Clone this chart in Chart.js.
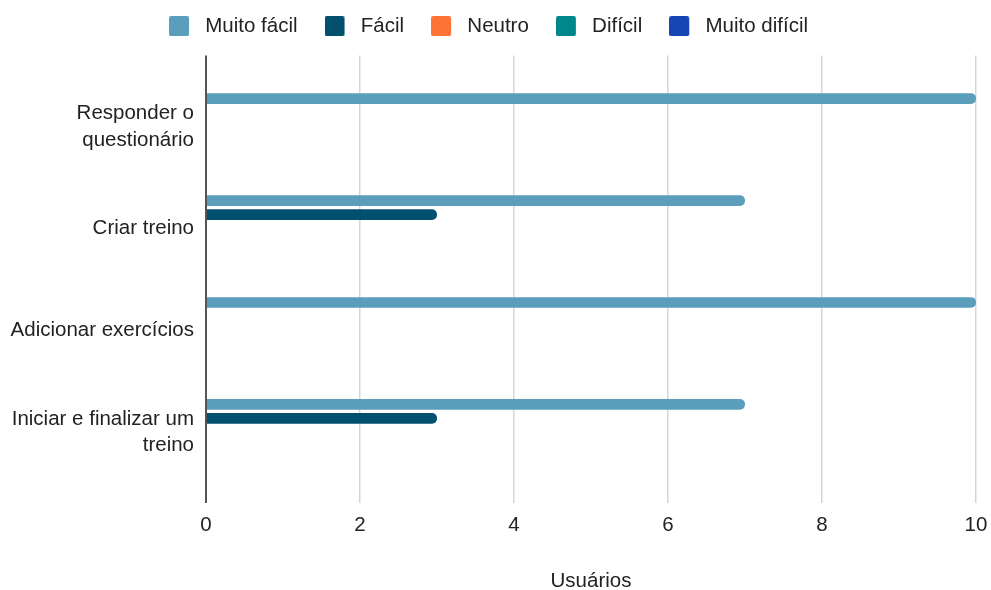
<!DOCTYPE html>
<html lang="pt">
<head>
<meta charset="utf-8">
<title>Facilidade das tarefas</title>
<script src="https://cdn.jsdelivr.net/npm/chart.js@4/dist/chart.umd.min.js"></script>
<style>
  html, body { margin: 0; padding: 0; background: #ffffff; }
  #wrap { width: 991px; height: 590px; }
</style>
</head>
<body>
<div id="wrap"><canvas id="grafico" width="991" height="590"></canvas></div>
<script>
// Tarefas avaliadas (cada rótulo quebrado em linhas como no eixo)
const categorias = [
  ['Responder o', 'questionário'],
  ['Criar treino'],
  ['Adicionar exercícios'],
  ['Iniciar e finalizar um', 'treino']
];

// Número de usuários por nível de facilidade
const muitoFacil   = [10, 7, 10, 7];
const facil        = [0, 3, 0, 3];
const neutro       = [0, 0, 0, 0];
const dificil      = [0, 0, 0, 0];
const muitoDificil = [0, 0, 0, 0];

const nomesSeries = ['Muito fácil', 'Fácil', 'Neutro', 'Difícil', 'Muito difícil'];
const coresSeries = ['#5a9ebb', '#02506e', '#fc7433', '#00878c', '#1447b4'];

// Valores do eixo horizontal
const ticksX = [0, 2, 4, 6, 8, 10];

const valoresSeries = [muitoFacil, facil, neutro, dificil, muitoDificil];

// Marcador da legenda: quadrado colorido com um respiro transparente à direita
function marcadorLegenda(cor) {
  const c = document.createElement('canvas');
  c.width = 26;
  c.height = 20;
  const g = c.getContext('2d');
  g.fillStyle = cor;
  g.beginPath();
  g.roundRect(0, 0, 20, 20, 2);
  g.fill();
  return c;
}
const marcadores = coresSeries.map(marcadorLegenda);

// Espaço extra entre a legenda e a área do gráfico
const espacoLegenda = {
  id: 'espacoLegenda',
  afterInit(chart) {
    const legenda = chart.legend;
    if (!legenda) return;
    const fitOriginal = legenda.fit;
    legenda.fit = function () {
      fitOriginal.call(this);
      this.height += 9;
    };
  }
};

const datasets = valoresSeries.map((valores, s) => ({
  label: nomesSeries[s],
  data: valores.map((v, i) => ({ x: v, y: i })),
  backgroundColor: coresSeries[s],
  borderColor: coresSeries[s],
  borderWidth: 0,
  borderRadius: 5,
  borderSkipped: 'start',
  pointStyle: marcadores[s],
  categoryPercentage: 0.69,
  barPercentage: 0.76
}));

const fonte = { family: '"Liberation Sans", Arial, sans-serif', size: 20.5 };

new Chart(document.getElementById('grafico'), {
  type: 'bar',
  data: { datasets },
  plugins: [espacoLegenda],
  options: {
    indexAxis: 'y',
    responsive: false,
    animation: false,
    layout: { padding: { left: 0, right: 14, top: -11, bottom: -4 } },
    plugins: {
      legend: {
        position: 'top',
        align: 'center',
        labels: {
          font: fonte,
          color: '#222222',
          usePointStyle: true,
          pointStyleWidth: 26,
          boxHeight: 20,
          padding: 27,
          generateLabels: (chart) => Chart.defaults.plugins.legend.labels.generateLabels(chart)
            .map((item, i) => Object.assign(item, { pointStyle: marcadores[i] }))
        }
      },
      tooltip: { enabled: false }
    },
    scales: {
      x: {
        type: 'linear',
        min: ticksX[0],
        max: ticksX[ticksX.length - 1],
        afterBuildTicks: (scale) => { scale.ticks = ticksX.map(v => ({ value: v })); },
        afterFit: (scale) => { scale.paddingRight = 15; },
        border: { display: false },
        grid: {
          drawTicks: false,
          color: (ctx) => ctx.tick && ctx.tick.value === 0 ? '#555555' : '#d6d6d6',
          lineWidth: (ctx) => ctx.tick && ctx.tick.value === 0 ? 2 : 1.5
        },
        ticks: { font: fonte, color: '#222222', padding: 10 },
        title: {
          display: true,
          text: 'Usuários',
          font: fonte,
          color: '#222222',
          padding: { top: 22, bottom: 0 }
        }
      },
      y: {
        type: 'linear',
        reverse: true,
        offset: false,
        bounds: 'data',
        min: -0.70,
        max: 3.69,
        afterBuildTicks: (scale) => { scale.ticks = categorias.map((_, i) => ({ value: i })); },
        afterFit: (scale) => { scale.width = 206; },
        border: { display: false },
        grid: { display: false, drawTicks: false, offset: false },
        ticks: {
          font: Object.assign({}, fonte, { lineHeight: 1.3 }),
          color: '#222222',
          padding: 12,
          autoSkip: false,
          callback: (v) => categorias[v] || ''
        }
      }
    }
  }
});
</script>
</body>
</html>
